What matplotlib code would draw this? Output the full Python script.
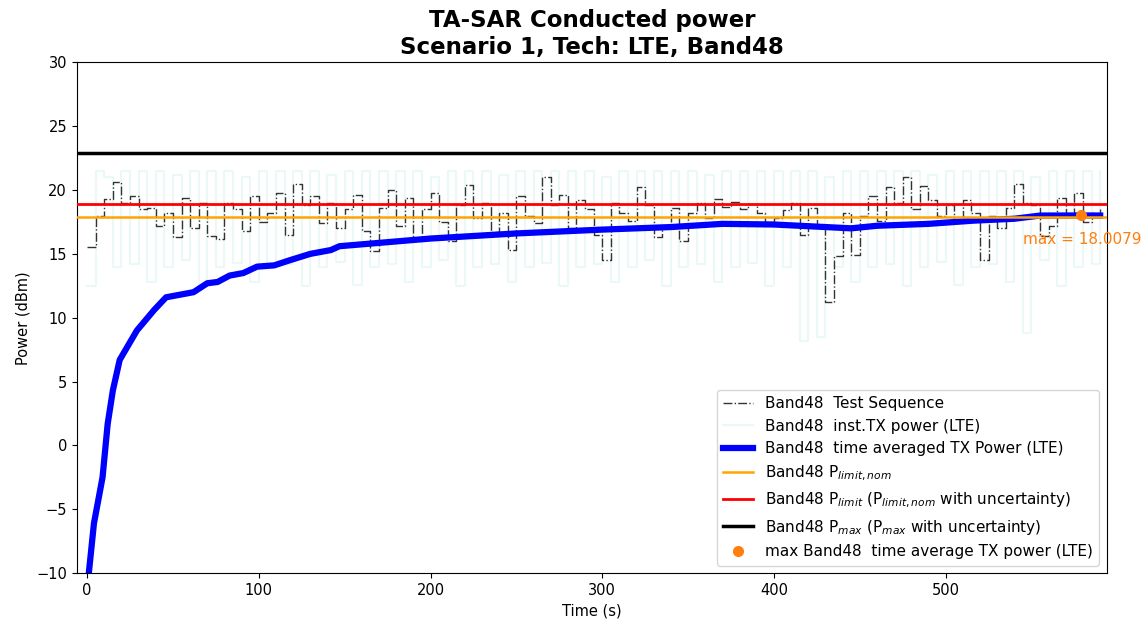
import matplotlib.pyplot as plt
import numpy as np

band = "Band48"
tech = "LTE"

# test sequence (step every 5 s)
seq_t = np.arange(0, 595, 5)
seq_p = [15.5, 18.0, 19.3, 20.6, 19.0, 19.5, 18.5, 18.6, 17.2, 18.2,
         16.3, 19.4, 17.0, 19.0, 16.4, 16.2, 19.0, 18.5, 16.8, 19.5,
         17.5, 18.2, 19.8, 16.5, 20.5, 18.8, 19.5, 17.4, 19.0, 17.0,
         18.5, 19.6, 16.8, 15.2, 18.6, 20.0, 17.2, 19.4, 16.2, 18.5,
         19.8, 17.5, 16.0, 18.8, 20.4, 17.8, 19.0, 16.7, 18.2, 15.3,
         19.5, 18.0, 17.4, 21.0, 18.8, 19.6, 17.0, 19.2, 18.5, 16.5,
         14.5, 19.0, 18.2, 17.6, 20.2, 18.8, 16.3, 17.0, 18.6, 16.0,
         18.2, 19.0, 17.8, 19.3, 18.7, 19.1, 18.5, 18.9, 18.2, 17.5,
         17.8, 18.4, 19.0, 16.5, 18.6, 17.2, 11.2, 14.8, 18.2, 14.9,
         18.0, 19.5, 17.6, 20.2, 19.0, 21.0, 18.5, 20.3, 19.2, 18.0,
         18.8, 17.6, 19.2, 18.2, 14.5, 18.0, 17.0, 18.6, 20.5, 19.0,
         18.8, 16.4, 17.2, 19.4, 18.0, 19.8, 17.5, 18.2, 18.5]

# instantaneous TX power (step every 5 s)
inst_p = [12.5, 21.5, 21.0, 14.0, 21.5, 14.2, 21.5, 12.8, 21.5, 14.0,
          21.2, 14.5, 21.5, 12.5, 21.5, 14.0, 21.5, 14.3, 21.0, 12.8,
          21.5, 14.0, 21.5, 14.2, 21.5, 12.5, 21.5, 14.0, 21.2, 14.4,
          21.5, 12.6, 21.5, 14.0, 21.5, 14.2, 21.5, 12.8, 21.5, 14.0,
          21.0, 14.5, 21.5, 12.5, 21.5, 14.0, 21.5, 14.2, 21.2, 12.8,
          21.5, 14.0, 21.5, 14.3, 21.5, 12.5, 21.5, 14.0, 21.5, 14.2,
          21.0, 12.8, 21.5, 14.0, 21.5, 14.5, 21.5, 12.5, 21.5, 14.0,
          21.5, 14.2, 21.2, 12.8, 21.5, 14.0, 21.5, 14.3, 21.5, 12.5,
          21.5, 14.0, 21.5, 8.2, 21.5, 8.5, 21.0, 14.0, 21.5, 12.8,
          21.5, 14.0, 21.5, 14.2, 21.5, 12.5, 21.5, 14.0, 21.2, 14.4,
          21.5, 12.6, 21.5, 14.0, 21.5, 14.2, 21.5, 12.8, 21.5, 8.8,
          21.0, 14.5, 21.5, 12.5, 21.5, 14.0, 21.5, 14.2, 21.5]

# time averaged TX power
avg_t = [1, 4, 9, 12, 15, 19, 29, 39, 46, 62, 70, 76, 83, 91, 99, 109,
         118, 130, 142, 147, 200, 250, 300, 340, 370, 400, 430, 445,
         460, 490, 516, 540, 555, 579, 590]
avg_p = [-10.0, -6.1, -2.5, 1.7, 4.3, 6.7, 9.0, 10.6, 11.6, 12.0, 12.7,
         12.8, 13.3, 13.5, 14.0, 14.1, 14.5, 15.0, 15.3, 15.6, 16.2, 16.6,
         16.9, 17.1, 17.35, 17.3, 17.1, 17.0, 17.2, 17.35, 17.6, 17.75,
         18.0, 18.0079, 18.0]

p_limit_nom = 17.9
p_limit = 18.9
p_max = 22.9
max_t = 579
max_p = 18.0079

fig, ax = plt.subplots(figsize=(11.46, 6.23), dpi=100)
fig.subplots_adjust(left=0.067, right=0.966, top=0.9, bottom=0.08)

ax.plot(seq_t, seq_p, drawstyle='steps-post', color='#333333', linestyle='-.',
        linewidth=1, label=f"{band}  Test Sequence", zorder=3)
ax.plot(seq_t, inst_p, drawstyle='steps-post', color='#8fe3d6', alpha=0.18,
        linewidth=1.5, label=f"{band}  inst.TX power ({tech})", zorder=2)
ax.plot(avg_t, avg_p, color='blue', linewidth=4.5,
        label=f"{band}  time averaged TX Power ({tech})", zorder=4)
ax.axhline(p_limit_nom, color='orange', linewidth=1.8,
           label=f"{band} " + r"P$_{limit,nom}$", zorder=5)
ax.axhline(p_limit, color='red', linewidth=2,
           label=f"{band} " + r"P$_{limit}$ (P$_{limit,nom}$ with uncertainty)", zorder=5)
ax.axhline(p_max, color='black', linewidth=2.5,
           label=f"{band} " + r"P$_{max}$ (P$_{max}$ with uncertainty)", zorder=5)
ax.plot(max_t, max_p, 'o', color='tab:orange', markersize=7,
        label=f"max {band}  time average TX power ({tech})", zorder=6)
ax.text(545, 15.8, f"max = {max_p}", color='tab:orange', fontsize=11)

ax.set_xlim(-6, 594)
ax.set_ylim(-10, 30)
ax.set_xlabel("Time (s)", fontsize=10.5)
ax.set_ylabel("Power (dBm)", fontsize=10.5)
ax.tick_params(labelsize=10.5)
ax.set_title(f"TA-SAR Conducted power\nScenario 1, Tech: {tech}, {band}",
             fontsize=16.5, fontweight='bold')
ax.legend(loc='lower right', fontsize=11)

plt.savefig("out.png", dpi=100)
